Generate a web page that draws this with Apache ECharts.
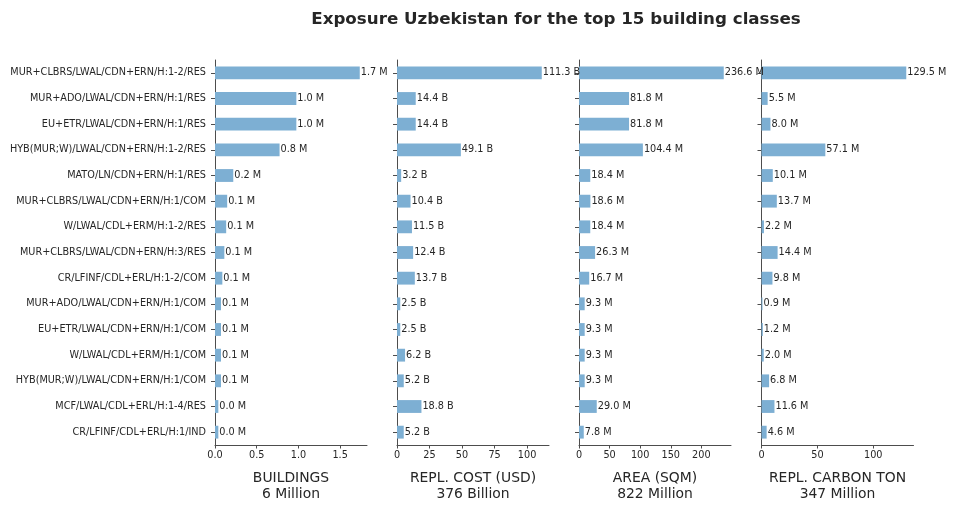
<!DOCTYPE html>
<html>
<head>
<meta charset="utf-8">
<script src="https://cdn.jsdelivr.net/npm/echarts@6/dist/echarts.min.js"></script>
<style>
html, body { margin: 0; padding: 0; background: #fff; }
#chart { width: 956px; height: 510px; }
</style>
</head>
<body>
<div id="chart"></div>
<script>
var categories = [
	'MUR+CLBRS/LWAL/CDN+ERN/H:1-2/RES',
	'MUR+ADO/LWAL/CDN+ERN/H:1/RES',
	'EU+ETR/LWAL/CDN+ERN/H:1/RES',
	'HYB(MUR;W)/LWAL/CDN+ERN/H:1-2/RES',
	'MATO/LN/CDN+ERN/H:1/RES',
	'MUR+CLBRS/LWAL/CDN+ERN/H:1/COM',
	'W/LWAL/CDL+ERM/H:1-2/RES',
	'MUR+CLBRS/LWAL/CDN+ERN/H:3/RES',
	'CR/LFINF/CDL+ERL/H:1-2/COM',
	'MUR+ADO/LWAL/CDN+ERN/H:1/COM',
	'EU+ETR/LWAL/CDN+ERN/H:1/COM',
	'W/LWAL/CDL+ERM/H:1/COM',
	'HYB(MUR;W)/LWAL/CDN+ERN/H:1/COM',
	'MCF/LWAL/CDL+ERL/H:1-4/RES',
	'CR/LFINF/CDL+ERL/H:1/IND'
];
// millions of buildings
var buildings = [1.735, 0.975, 0.975, 0.774, 0.219, 0.146, 0.134, 0.112, 0.088, 0.072, 0.072, 0.072, 0.072, 0.04, 0.04];
// billions of USD
var replCost = [111.3, 14.4, 14.4, 49.1, 3.2, 10.4, 11.5, 12.4, 13.7, 2.5, 2.5, 6.2, 5.2, 18.8, 5.2];
// millions of sqm
var area = [236.6, 81.8, 81.8, 104.4, 18.4, 18.6, 18.4, 26.3, 16.7, 9.3, 9.3, 9.3, 9.3, 29.0, 7.8];
// millions of tons
var carbon = [129.5, 5.5, 8.0, 57.1, 10.1, 13.7, 2.2, 14.4, 9.8, 0.9, 1.2, 2.0, 6.8, 11.6, 4.6];

var ticksBuildings = [0, 0.5, 1.0, 1.5];
var ticksCost = [0, 25, 50, 75, 100];
var ticksArea = [0, 50, 100, 150, 200];
var ticksCarbon = [0, 50, 100];

var panels = [
	{ data: buildings, unit: ' M', ticks: ticksBuildings, dec: 1, name: 'BUILDINGS\n6 Million' },
	{ data: replCost, unit: ' B', ticks: ticksCost, dec: 0, name: 'REPL. COST (USD)\n376 Billion' },
	{ data: area, unit: ' M', ticks: ticksArea, dec: 0, name: 'AREA (SQM)\n822 Million' },
	{ data: carbon, unit: ' M', ticks: ticksCarbon, dec: 0, name: 'REPL. CARBON TON\n347 Million' }
];

var lefts = [215, 397, 579, 761.5];
var txt = '#262626';
var axisCol = '#4d4d4d';
var font = 'DejaVu Sans';

var grid = [], xAxis = [], yAxis = [], series = [];
panels.forEach(function(p, i) {
	grid.push({ left: lefts[i], width: 152, top: 60, bottom: 65 });
	xAxis.push({
		gridIndex: i,
		type: 'value',
		min: 0,
		max: Math.max.apply(null, p.data) * 1.05,
		name: p.name,
		nameLocation: 'middle',
		nameGap: 25,
		nameTextStyle: { fontFamily: font, fontSize: 13.9, color: txt, lineHeight: 16, verticalAlign: 'top' },
		axisLine: { show: true, lineStyle: { color: axisCol, width: 1 } },
		axisTick: { show: true, length: 3.5, customValues: p.ticks, lineStyle: { color: axisCol } },
		axisLabel: {
			customValues: p.ticks,
			fontFamily: font, fontSize: 9.7, color: txt, margin: 5,
			formatter: function(v) { return v.toFixed(p.dec); }
		},
		splitLine: { show: false }
	});
	yAxis.push({
		gridIndex: i,
		type: 'category',
		inverse: true,
		data: categories,
		axisLine: { show: true, lineStyle: { color: axisCol, width: 1 } },
		axisTick: { show: true, alignWithLabel: true, length: 4, lineStyle: { color: axisCol } },
		axisLabel: { show: i === 0, fontFamily: font, fontSize: 9.7, color: txt, margin: 9 },
		splitLine: { show: false }
	});
	series.push({
		type: 'bar',
		xAxisIndex: i,
		yAxisIndex: i,
		data: p.data,
		barWidth: '50%',
		itemStyle: { color: '#7dafd3' },
		label: {
			show: true,
			position: 'right',
			distance: 1,
			fontFamily: font,
			fontSize: 9.7,
			color: txt,
			formatter: function(d) { return d.value.toFixed(1) + p.unit; }
		},
		animation: false
	});
});

var chart = echarts.init(document.getElementById('chart'));
chart.setOption({
	animation: false,
	title: {
		text: 'Exposure Uzbekistan for the top 15 building classes',
		left: 551,
		textAlign: 'center',
		top: 6,
		textStyle: { fontFamily: font, fontSize: 16.7, fontWeight: 'bold', color: txt }
	},
	grid: grid,
	xAxis: xAxis,
	yAxis: yAxis,
	series: series
});
</script>
</body>
</html>
